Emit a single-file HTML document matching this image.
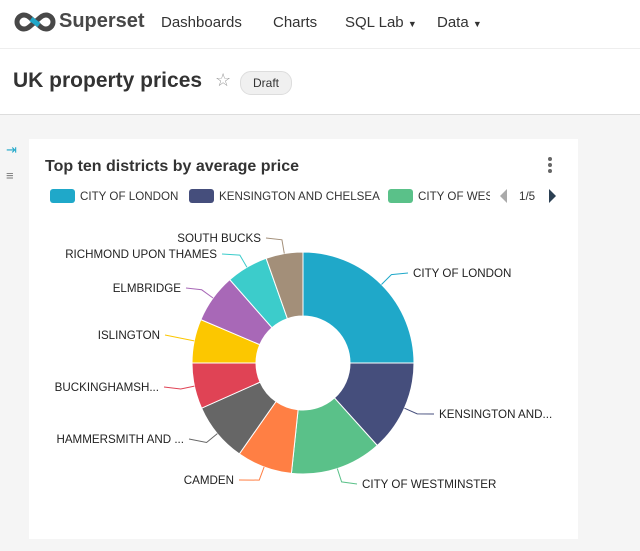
<!DOCTYPE html>
<html><head><meta charset="utf-8"><style>
body{margin:0;width:640px;height:551px;background:#f5f5f5;font-family:"Liberation Sans",sans-serif;position:relative;overflow:hidden}
.nav{position:absolute;left:0;top:0;width:640px;height:48px;background:#fff;border-bottom:1px solid #eee}
.nav span{position:absolute;top:14px;font-size:15px;color:#333}
.hdr{position:absolute;left:0;top:49px;width:640px;height:65px;background:#fff;border-bottom:1px solid #ddd}
.card{position:absolute;left:29px;top:139px;width:549px;height:400px;background:#fff}
</style></head><body>
<div class="nav">
<svg style="position:absolute;left:13px;top:12px" width="44" height="20" viewBox="0 0 44 20"><path d="M11 3a7 7 0 1 0 0 14c4 0 6-3 11-7s7-7 11-7a7 7 0 1 1 0 14c-4 0-6-3-11-7S15 3 11 3z" fill="none" stroke="#484848" stroke-width="5"/><path d="M18 7l8 6" stroke="#20a7c9" stroke-width="5"/></svg>
<span style="left:59px;top:10px;font-size:20px;font-weight:bold;color:#484848">Superset</span>
<span style="left:161px">Dashboards</span><span style="left:273px">Charts</span>
<span style="left:345px">SQL Lab <small style="font-size:9px">▼</small></span>
<span style="left:437px">Data <small style="font-size:9px">▼</small></span>
</div>
<div class="hdr">
<span style="position:absolute;left:13px;top:20px;font-size:21px;font-weight:bold;color:#333">UK property prices</span>
<span style="position:absolute;left:215px;top:21px;font-size:18px;color:#999">☆</span>
<span style="position:absolute;left:240px;top:22px;width:50px;height:22px;border-radius:11px;background:#f0f0f0;border:1px solid #ddd;font-size:12px;line-height:22px;text-align:center;color:#333">Draft</span>
</div>
<span style="position:absolute;left:6px;top:142px;color:#20a7c9;font-size:13px">⇥</span>
<span style="position:absolute;left:6px;top:168px;color:#777;font-size:13px">≡</span>
<div class="card">
<div style="position:absolute;left:16px;top:19px;font-size:16px;font-weight:bold;color:#333">Top ten districts by average price</div>
</div>
<svg style="position:absolute;left:0;top:0" width="640" height="551" id="s" font-family="Liberation Sans, sans-serif" font-size="12" fill="#333">
<g font-size="11.6">
<rect x="50" y="189" width="25" height="14" rx="3" fill="#1FA8C9"/><text x="80" y="200">CITY OF LONDON</text>
<rect x="189" y="189" width="25" height="14" rx="3" fill="#454E7C"/><text x="219" y="200">KENSINGTON AND CHELSEA</text>
<rect x="388" y="189" width="25" height="14" rx="3" fill="#5AC189"/><text x="418" y="200">CITY OF WES</text>
<rect x="490" y="186" width="20" height="20" fill="#fff"/>
<path d="M507 189l-7 7 7 7z" fill="#aaa"/><text x="519" y="200">1/5</text><path d="M549 189l7 7-7 7z" fill="#2b3f52"/>
</g>
</svg>
<script>
var cx=303,cy=363,R=111,r=47;
var b=[0,90,138,186,215,246,270,293,318.7,340.6,360];
var c=["#1FA8C9","#454E7C","#5AC189","#FF7F44","#666666","#E04355","#FCC700","#A868B7","#3CCCCB","#A38F79"];
var L=[["CITY OF LONDON",413,277,0],["KENSINGTON AND...",439,418,0],["CITY OF WESTMINSTER",362,488,0],["CAMDEN",234,484,1],["HAMMERSMITH AND ...",184,443,1],["BUCKINGHAMSH...",159,391,1],["ISLINGTON",160,339,1],["ELMBRIDGE",181,292,1],["RICHMOND UPON THAMES",217,258,1],["SOUTH BUCKS",261,242,1]];
function p(a,rad){a=a*Math.PI/180;return [cx+rad*Math.sin(a),cy-rad*Math.cos(a)];}
var s=document.getElementById('s'),h='';
for(var i=0;i<10;i++){var a0=b[i],a1=b[i+1],lg=a1-a0>180?1:0;
var A=p(a0,R),B=p(a1,R),C=p(a1,r),D=p(a0,r);
h+='<path d="M'+A+'A'+R+','+R+' 0 '+lg+' 1 '+B+'L'+C+'A'+r+','+r+' 0 '+lg+' 0 '+D+'Z" fill="'+c[i]+'" stroke="#fff" stroke-width="1"/>';
var m=(a0+a1)/2,P=p(m,R),Q=p(m,R+14),l=L[i];
var ex=l[3]?l[1]+5:l[1]-5;
h+='<polyline points="'+P+' '+Q+' '+ex+','+(l[2]-4)+'" fill="none" stroke="'+c[i]+'"/>';
h+='<text x="'+l[1]+'" y="'+l[2]+'" text-anchor="'+(l[3]?'end':'start')+'" fill="#222" font-size="11.6">'+l[0]+'</text>';}
s.insertAdjacentHTML('beforeend',h);
</script>
<div style="position:absolute;left:548px;top:157px;width:4px">
<div style="width:4px;height:4px;border-radius:2px;background:#666;margin-bottom:2px"></div><div style="width:4px;height:4px;border-radius:2px;background:#666;margin-bottom:2px"></div><div style="width:4px;height:4px;border-radius:2px;background:#666"></div></div>
</body></html>
